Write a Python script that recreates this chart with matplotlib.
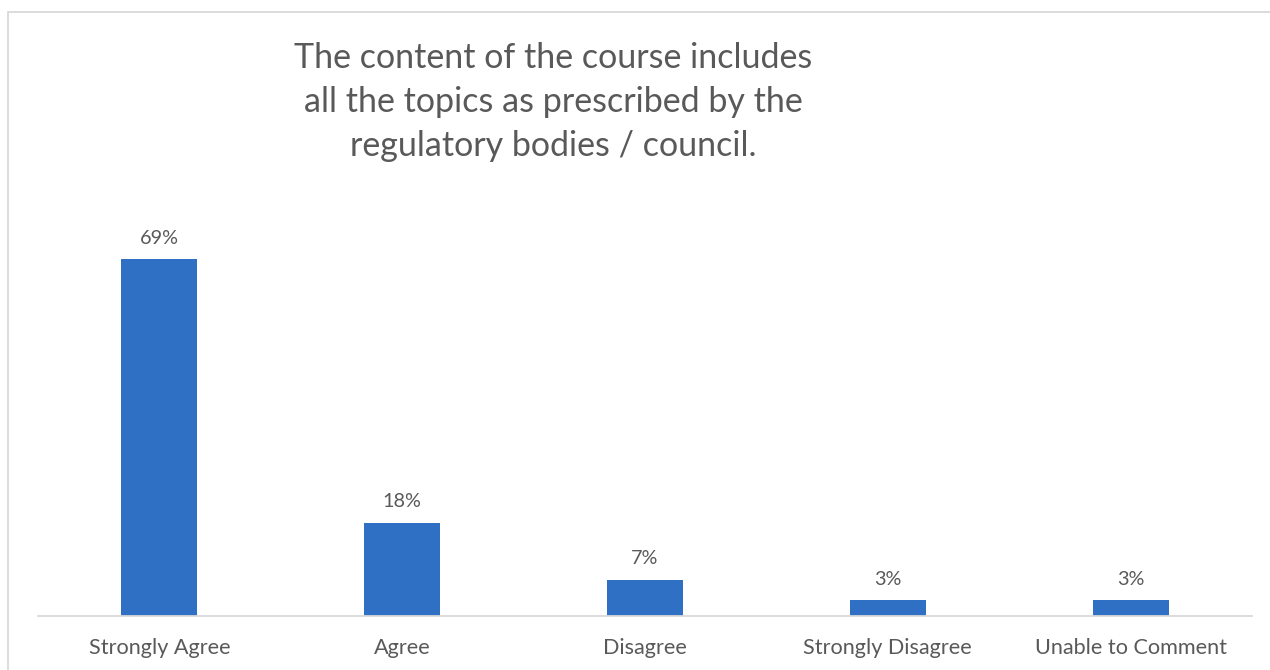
import matplotlib.pyplot as plt
from matplotlib.patches import Rectangle

categories = ['Strongly Agree', 'Agree', 'Disagree', 'Strongly Disagree', 'Unable to Comment']
values = [69, 18, 7, 3, 3]
labels = ['69%', '18%', '7%', '3%', '3%']
title = 'The content of the course includes\nall the topics as prescribed by the\nregulatory bodies / council.'

bar_color = '#3070C4'
text_color = '#595959'
font = ['Lato', 'DejaVu Sans']

fig = plt.figure(figsize=(12.7, 6.7), dpi=100)

# outer chart border (runs off the right and bottom edge)
fig.patches.append(Rectangle((8 / 1270, -0.01), 1.05, (670 - 12) / 670 + 0.01,
                             transform=fig.transFigure, fill=False,
                             edgecolor='#D9D9D9', linewidth=1.3))

ax = fig.add_axes([38 / 1270, 54 / 670, 1214 / 1270, 413.6 / 670])
x = list(range(len(categories)))
ax.bar(x, values, width=0.313, color=bar_color, zorder=2)
ax.set_xlim(-0.5, len(categories) - 0.5)
ax.set_ylim(0, 80)

for xi, v, lab in zip(x, values, labels):
    ax.annotate(lab, (xi, v), xytext=(0, 9), textcoords='offset points',
                ha='center', va='bottom', fontsize=14.3, color=text_color, family=font)

for s in ['top', 'right', 'left']:
    ax.spines[s].set_visible(False)
ax.spines['bottom'].set_color('#D9D9D9')
ax.spines['bottom'].set_linewidth(1.3)
ax.set_yticks([])
ax.set_xticks(x)
ax.set_xticklabels(categories, fontsize=15.6, color=text_color, family=font)
ax.tick_params(axis='x', length=0, pad=16)

fig.text(553 / 1270, 1 - 42 / 670, title, ha='center', va='top', fontsize=24.5,
         color=text_color, family=font, linespacing=1.47)

fig.savefig('out.png', dpi=100)
